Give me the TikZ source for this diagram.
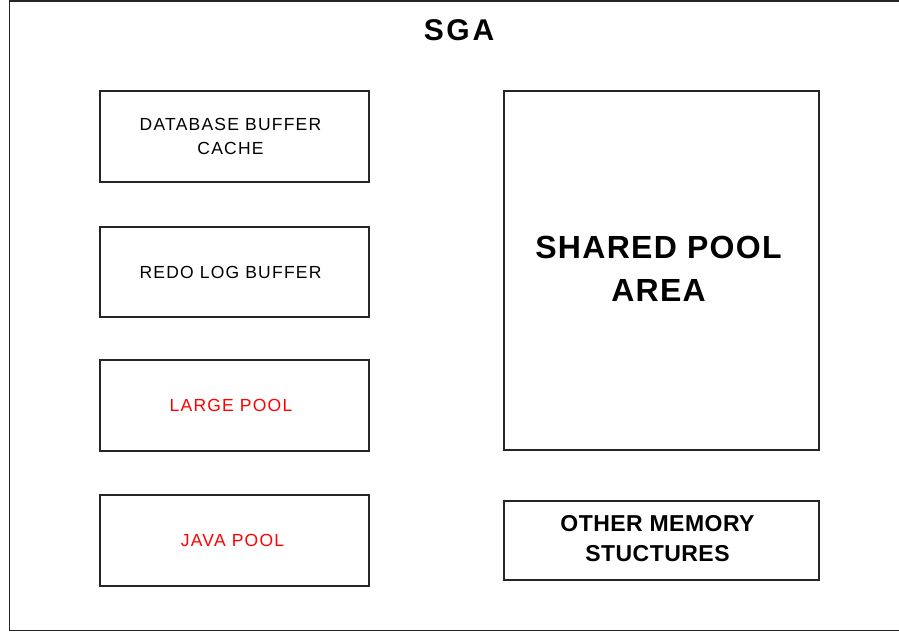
\documentclass[tikz,border=0pt]{standalone}
\usepackage{fontspec}
\setmainfont{Liberation Sans}
\newfontfamily\smallsans[LetterSpace=7]{Liberation Sans}
\newfontfamily\boldsans[LetterSpace=4]{Liberation Sans}
\newfontfamily\othersans[LetterSpace=2]{Liberation Sans}
\newfontfamily\titlesans[LetterSpace=9]{Liberation Sans}
\begin{document}
\begin{tikzpicture}[x=1pt,y=-1pt,
  frame/.style={draw=black!85,line width=1.3pt},
  membox/.style={frame,minimum width=269pt,minimum height=91pt,inner sep=0pt},
  memtext/.style={inner sep=0pt,align=center,font=\smallsans\fontsize{17.5}{24}\selectfont},
  redtext/.style={text={rgb,255:red,255;green,0;blue,0}},
  bigbox/.style={frame,minimum width=315pt,inner sep=0pt},
  bigtext/.style={inner sep=0pt,align=center}]
\useasboundingbox (0,0) rectangle (899,632);
\fill[white] (0,0) rectangle (899,632);
% outer SGA frame, open towards the right edge
\coordinate (tr) at (899,1);
\coordinate (br) at (899,630.5);
\draw[frame] (tr) -- (9.5,1) -- (9.5,630.5) -- (br);
\node[font=\titlesans\bfseries\fontsize{30}{36}\selectfont] (sga) at (459,30) {SGA};
% left column of buffers and pools
\node[membox] (dbc) at (234.5,136.5) {};
\node[membox,minimum height=90pt] (redo) at (234.5,272) {};
\node[membox] (large) at (234.5,405.5) {};
\node[membox] (java) at (234.5,540.5) {};
\node[memtext] (dbc-t) at ([xshift=-4pt]dbc.center) {DATABASE BUFFER\\CACHE};
\node[memtext] (redo-t) at ([xshift=-4pt]redo.center) {REDO LOG BUFFER};
\node[memtext,redtext] (large-t) at ([xshift=-3.5pt]large.center) {LARGE POOL};
\node[memtext,redtext] (java-t) at ([xshift=-2pt]java.center) {JAVA POOL};
% right column
\node[bigbox,minimum height=359pt] (shared) at (661.5,270.5) {};
\node[bigbox,minimum height=79pt] (other) at (661.5,540.5) {};
\node[bigtext,font=\boldsans\bfseries\fontsize{32}{43}\selectfont]
  (shared-t) at ([xshift=-3pt,yshift=2pt]shared.center) {SHARED POOL\\AREA};
\node[bigtext,font=\othersans\bfseries\fontsize{23}{30}\selectfont]
  (other-t) at ([xshift=-4pt,yshift=2pt]other.center) {OTHER MEMORY\\STUCTURES};
\end{tikzpicture}
\end{document}
